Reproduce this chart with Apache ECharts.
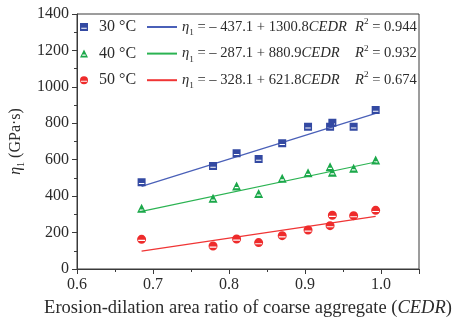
<!DOCTYPE html>
<html>
<head>
<meta charset="utf-8">
<script src="https://cdn.jsdelivr.net/npm/echarts@6/dist/echarts.min.js"></script>
<style>
  html, body { margin: 0; padding: 0; background: #fff; }
  #chart { width: 456px; height: 324px; }
</style>
</head>
<body>
<div id="chart"></div>
<script>
// Erosion-dilation area ratio of coarse aggregate (CEDR) for each specimen
const cedr = [0.685, 0.779, 0.810, 0.839, 0.870, 0.904, 0.933, 0.936, 0.964, 0.993];

// Viscosity coefficient eta1 (GPa·s) at three temperatures
const eta30 = [476, 565, 635, 604, 690, 781, 781, 803, 781, 873];
const eta40 = [333, 388, 456, 415, 498, 529, 562, 531, 553, 598];
const eta50 = [163, 126, 165, 145, 183, 214, 238, 295, 293, 322];

const tempLabels = ['30 °C', '40 °C', '50 °C'];

// Linear fits eta1 = a + b * CEDR
const fitIntercept = [-437.1, -287.1, -328.1];
const fitSlope = [1300.8, 880.9, 621.8];
const fitR2 = ['0.944', '0.932', '0.674'];

const xTicks = [0.6, 0.7, 0.8, 0.9, 1.0];
const yTicks = [0, 200, 400, 600, 800, 1000, 1200, 1400];

const markColors = ['#3349a2', '#1ba84a', '#ee2b2b'];
const lineColors = ['#4a60b8', '#2bb352', '#f03535'];

// Half-split symbols: a filled shape with a thin white stripe cut out
const symbols = [
  'path://M0,0H10V10H0Z M1.6,5.8V7.2H8.4V5.8Z',
  'path://M5,0L10,10L0,10Z M3.3,6.2L2.6,7.6H7.4L6.7,6.2Z',
  'path://M5,0A5,5 0 1 1 5,10A5,5 0 1 1 5,0Z M1.2,5.6V6.9H8.8V5.6Z'
];
const symbolSizes = [8, 9, 9];

const FONT = 'Liberation Serif';
const TEXT = '#2b2b2b';
const AXIS = '#3a3a3a';

const seriesValues = [eta30, eta40, eta50];
const fitNames = ['fit30', 'fit40', 'fit50'];

const series = [];
seriesValues.forEach((vals, i) => {
  series.push({
    name: tempLabels[i],
    type: 'scatter',
    symbol: symbols[i],
    symbolSize: symbolSizes[i],
    itemStyle: { color: markColors[i], opacity: 1 },
    data: cedr.map((c, k) => [c, vals[k]]),
    z: 3
  });
});
const xLo = Math.min(...cedr), xHi = Math.max(...cedr);
fitIntercept.forEach((a, i) => {
  const b = fitSlope[i];
  series.push({
    name: fitNames[i],
    type: 'line',
    symbol: 'none',
    lineStyle: { color: lineColors[i], width: 1.2 },
    itemStyle: { color: lineColors[i] },
    data: [[xLo, a + b * xLo], [xHi, a + b * xHi]],
    z: 2
  });
});

function richSet(size) {
  return {
    n: { fontFamily: FONT, fontSize: size, color: TEXT, lineHeight: 20 },
    i: { fontFamily: FONT, fontSize: size, color: TEXT, fontStyle: 'italic', lineHeight: 20 },
    sub: { fontFamily: FONT, fontSize: size * 0.63, color: TEXT, lineHeight: 10, verticalAlign: 'bottom' },
    sup: { fontFamily: FONT, fontSize: size * 0.63, color: TEXT, lineHeight: 10, verticalAlign: 'top' }
  };
}
const eqRich = richSet(14.6);
const nameRich = richSet(16);

const fmtNum = v => Math.abs(v).toFixed(1);

const legendBase = {
  orient: 'vertical',
  top: 17, padding: 0,
  align: 'left',
  itemGap: 6.6,
  selectedMode: false
};

const chart = echarts.init(document.getElementById('chart'), null, { renderer: 'canvas' });
chart.setOption({
  animation: false,
  backgroundColor: '#fff',
  grid: {
    left: 77, right: 37, top: 14, bottom: 55,
    show: true, borderColor: AXIS, borderWidth: 1, backgroundColor: 'transparent'
  },
  legend: [
    Object.assign({}, legendBase, {
      data: tempLabels.map((n, i) => ({ name: n, icon: symbols[i], itemStyle: { color: markColors[i] } })),
      left: 80,
      itemWidth: 8, itemHeight: 8,
      textStyle: { fontFamily: FONT, fontSize: 16, color: TEXT, lineHeight: 20, padding: [0, 0, 0, 6] }
    }),
    Object.assign({}, legendBase, {
      data: fitNames,
      left: 146,
      itemWidth: 30, itemHeight: 14,
      itemStyle: { opacity: 0 },
      formatter: name => {
        const i = fitNames.indexOf(name);
        return '{i|η}{sub|1}{n| = – ' + fmtNum(fitIntercept[i]) + ' + ' + fitSlope[i].toFixed(1) + '}{i|CEDR}';
      },
      textStyle: { fontFamily: FONT, fontSize: 14.6, color: TEXT, lineHeight: 20, rich: eqRich }
    }),
    Object.assign({}, legendBase, {
      data: fitNames,
      left: 350,
      icon: 'rect',
      itemWidth: 0, itemHeight: 0,
      itemStyle: { opacity: 0 },
      lineStyle: { opacity: 0 },
      formatter: name => {
        const i = fitNames.indexOf(name);
        return '{i|R}{sup|2}{n| = ' + fitR2[i] + '}';
      },
      textStyle: { fontFamily: FONT, fontSize: 14.6, color: TEXT, lineHeight: 20, rich: eqRich }
    })
  ],
  xAxis: {
    type: 'value',
    min: xTicks[0], max: 1.05, interval: 0.1,
    name: 'Erosion-dilation area ratio of coarse aggregate ({i|CEDR})',
    nameLocation: 'middle', nameGap: 30,
    nameTextStyle: {
      fontFamily: FONT, fontSize: 18.5, color: TEXT,
      rich: { i: { fontFamily: FONT, fontSize: 18.5, color: TEXT, fontStyle: 'italic' } }
    },
    axisLine: { lineStyle: { color: AXIS, width: 1 } },
    axisTick: { show: true, inside: false, length: 5, lineStyle: { color: AXIS } },
    minorTick: { show: true, splitNumber: 2, length: 3, lineStyle: { color: AXIS } },
    splitLine: { show: false },
    axisLabel: {
      fontFamily: FONT, fontSize: 16, color: TEXT, margin: 8,
      showMaxLabel: false,
      formatter: v => (xTicks.some(t => Math.abs(t - v) < 1e-9) ? v.toFixed(1) : '')
    }
  },
  yAxis: {
    type: 'value',
    min: yTicks[0], max: yTicks[yTicks.length - 1], interval: 200,
    name: '{i|η}{sub|1}{n| (GPa·s)}',
    nameLocation: 'middle', nameGap: 49, nameRotate: 90,
    nameTextStyle: { fontFamily: FONT, fontSize: 16, color: TEXT, rich: nameRich },
    axisLine: { lineStyle: { color: AXIS, width: 1 } },
    axisTick: { show: true, inside: false, length: 5, lineStyle: { color: AXIS } },
    minorTick: { show: true, splitNumber: 2, length: 3, lineStyle: { color: AXIS } },
    splitLine: { show: false },
    axisLabel: { fontFamily: FONT, fontSize: 16, color: TEXT, margin: 8, formatter: v => String(v) }
  },
  series: series
});
</script>
</body>
</html>
